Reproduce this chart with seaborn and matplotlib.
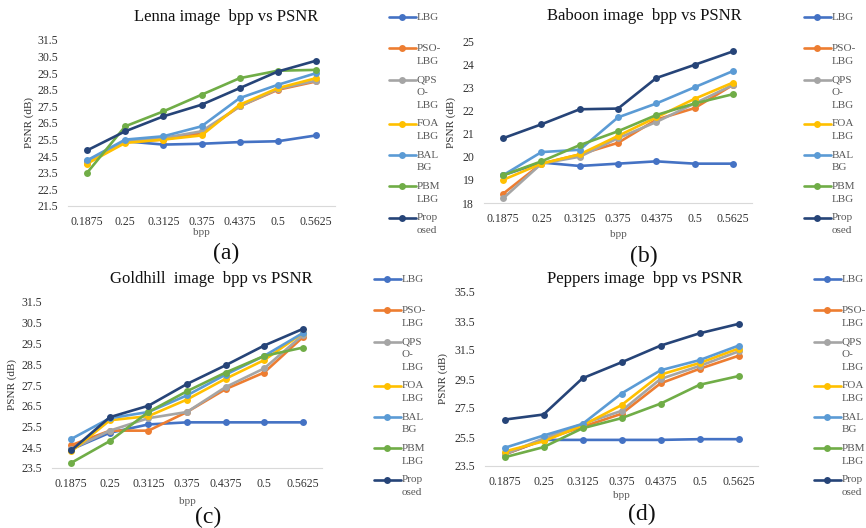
import pandas as pd
import matplotlib
matplotlib.use("Agg")
import matplotlib.pyplot as plt
import seaborn as sns

# eje x (categorias)
bpp = ["0.1875", "0.25", "0.3125", "0.375", "0.4375", "0.5", "0.5625"]
methods = ["LBG", "PSO-LBG", "QPSO-LBG", "FOA-LBG", "BAL-BG", "PBM-LBG", "Proposed"]
legend_labels = ["LBG\n ", "PSO-\nLBG", "QPS\nO-\nLBG", "FOA\nLBG", "BAL\nBG", "PBM\nLBG", "Prop\nosed"]
colors = ["#4472C4", "#ED7D31", "#A5A5A5", "#FFC000", "#5B9BD5", "#70AD47", "#264478"]

# PSNR
lenna = {
    "LBG": [24.2, 25.4, 25.2, 25.25, 25.35, 25.4, 25.75],
    "PSO-LBG": [24.1, 25.35, 25.5, 25.9, 27.5, 28.5, 29.0],
    "QPSO-LBG": [24.1, 25.4, 25.6, 26.0, 27.5, 28.55, 29.05],
    "FOA-LBG": [24.05, 25.3, 25.5, 25.75, 27.6, 28.6, 29.2],
    "BAL-BG": [24.25, 25.5, 25.7, 26.3, 28.0, 28.8, 29.5],
    "PBM-LBG": [23.5, 26.3, 27.2, 28.2, 29.2, 29.65, 29.7],
    "Proposed": [24.85, 26.0, 26.9, 27.6, 28.6, 29.6, 30.25],
}
baboon = {
    "LBG": [19.2, 19.75, 19.6, 19.7, 19.8, 19.7, 19.7],
    "PSO-LBG": [18.4, 19.7, 20.1, 20.6, 21.6, 22.1, 23.1],
    "QPSO-LBG": [18.2, 19.7, 20.0, 20.8, 21.5, 22.3, 23.1],
    "FOA-LBG": [19.0, 19.7, 20.1, 20.9, 21.7, 22.5, 23.2],
    "BAL-BG": [19.2, 20.2, 20.3, 21.7, 22.3, 23.0, 23.7],
    "PBM-LBG": [19.2, 19.8, 20.5, 21.1, 21.8, 22.3, 22.7],
    "Proposed": [20.8, 21.4, 22.05, 22.08, 23.4, 23.97, 24.55],
}
goldhill = {
    "LBG": [24.4, 25.2, 25.6, 25.7, 25.7, 25.7, 25.7],
    "PSO-LBG": [24.6, 25.3, 25.3, 26.2, 27.3, 28.1, 29.8],
    "QPSO-LBG": [24.4, 25.3, 25.9, 26.2, 27.4, 28.3, 29.9],
    "FOA-LBG": [24.3, 25.8, 26.0, 26.8, 27.8, 28.7, 30.0],
    "BAL-BG": [24.9, 25.9, 26.2, 27.0, 28.0, 28.9, 30.0],
    "PBM-LBG": [23.75, 24.8, 26.2, 27.2, 28.1, 28.9, 29.3],
    "Proposed": [24.35, 25.95, 26.5, 27.55, 28.45, 29.4, 30.2],
}
peppers = {
    "LBG": [24.3, 25.3, 25.3, 25.3, 25.3, 25.35, 25.35],
    "PSO-LBG": [24.3, 25.3, 26.2, 27.1, 29.2, 30.2, 31.1],
    "QPSO-LBG": [24.3, 25.4, 26.4, 27.3, 29.5, 30.4, 31.4],
    "FOA-LBG": [24.5, 25.2, 26.3, 27.7, 29.8, 30.6, 31.6],
    "BAL-BG": [24.75, 25.6, 26.4, 28.5, 30.1, 30.8, 31.8],
    "PBM-LBG": [24.1, 24.8, 26.1, 26.8, 27.8, 29.1, 29.7],
    "Proposed": [26.7, 27.05, 29.55, 30.65, 31.8, 32.65, 33.3],
}

lenna_ticks = [21.5, 22.5, 23.5, 24.5, 25.5, 26.5, 27.5, 28.5, 29.5, 30.5, 31.5]
baboon_ticks = [18, 19, 20, 21, 22, 23, 24, 25]
goldhill_ticks = [23.5, 24.5, 25.5, 26.5, 27.5, 28.5, 29.5, 30.5, 31.5]
peppers_ticks = [23.5, 25.5, 27.5, 29.5, 31.5, 33.5, 35.5]

sns.set_theme(style="white")
plt.rcParams["font.family"] = ["Liberation Serif", "DejaVu Serif"]

W, H = 866, 528
fig = plt.figure(figsize=(W / 100, H / 100), dpi=100)


def px_axes(x0, y0, x1, y1):
    return fig.add_axes([x0 / W, 1 - y1 / H, (x1 - x0) / W, (y1 - y0) / H])


paneles = [
    # datos, ticks, titulo, letra, caja ejes, titulo xy, letra xy, leyenda xy, ylabel x, xlabelpad
    (lenna, lenna_ticks, "Lenna image  bpp vs PSNR", "(a)", (68, 40, 335, 206), (226, 17), (226, 253), (383, 7), -0.129, 0.5),
    (baboon, baboon_ticks, "Baboon image  bpp vs PSNR", "(b)", (484, 41, 752, 203), (644, 16), (644, 256), (798, 7), -0.103, 3.5),
    (goldhill, goldhill_ticks, "Goldhill  image  bpp vs PSNR", "(c)", (52, 302, 322, 468), (211, 279), (208, 517), (368, 269), -0.128, 5),
    (peppers, peppers_ticks, "Peppers image  bpp vs PSNR", "(d)", (485, 292, 758, 466), (645, 279), (642, 514), (808, 269), -0.134, 2),
]

for datos, ticks, titulo, letra, caja, txy, lxy, legxy, ylx, xlp in paneles:
    ax = px_axes(*caja)
    df = pd.DataFrame(
        [(i, m, v) for m in methods for i, v in enumerate(datos[m])],
        columns=["pos", "Metodo", "PSNR"],
    )
    sns.lineplot(data=df, x="pos", y="PSNR", hue="Metodo", hue_order=methods,
                 palette=colors, marker="o", markersize=5, markeredgewidth=0,
                 linewidth=1.9, legend=False, ax=ax)
    ax.set_xlim(-0.5, len(bpp) - 0.5)
    ax.set_ylim(ticks[0], ticks[-1])
    ax.set_xticks(range(len(bpp)))
    ax.set_xticklabels(bpp)
    ax.set_yticks(ticks)
    ax.set_yticklabels([f"{t:g}" for t in ticks])
    ax.tick_params(axis="both", length=0, labelsize=8.5, colors="#333333", pad=7)
    for s in ["top", "right", "left"]:
        ax.spines[s].set_visible(False)
    ax.spines["bottom"].set_color("#D9D9D9")
    ax.spines["bottom"].set_linewidth(0.8)
    ax.set_xlabel("bpp", fontsize=8, color="#595959", labelpad=xlp)
    ax.set_ylabel("PSNR (dB)", fontsize=8, color="#333333")
    ax.yaxis.set_label_coords(ylx, 0.5)

    fig.text(txy[0] / W, 1 - txy[1] / H, titulo, fontsize=12, ha="center", va="center", color="#111111")
    fig.text(lxy[0] / W, 1 - lxy[1] / H, letra, fontsize=17, ha="center", va="center", color="#111111")

    leg = ax.legend(ax.lines[:len(methods)], legend_labels, loc="upper left",
                    bbox_to_anchor=(legxy[0] / W, 1 - legxy[1] / H),
                    bbox_transform=fig.transFigure, frameon=False, fontsize=8,
                    borderpad=0, handlelength=2.5, handletextpad=0.05,
                    handleheight=1.1, labelspacing=0.85, labelcolor="#595959")
    for t in leg.get_texts():
        t.set_linespacing(1.55)
    # alinear la linea con el primer renglon del texto
    for col in leg._legend_handle_box.get_children():
        for item in col.get_children():
            item.align = "top"

fig.savefig("out.png", dpi=100)
